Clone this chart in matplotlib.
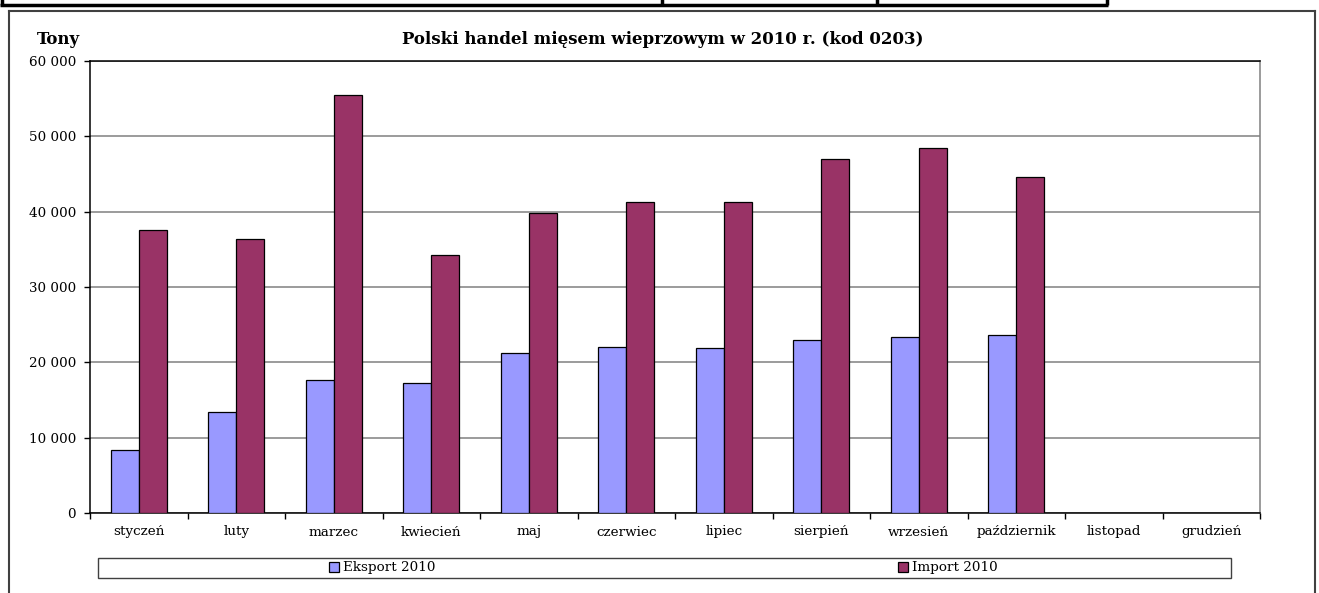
import numpy as np
import matplotlib
matplotlib.use("Agg")
import matplotlib.pyplot as plt
from matplotlib.lines import Line2D
from matplotlib.patches import Rectangle
from matplotlib.ticker import FuncFormatter, FixedLocator

months = ["styczeń", "luty", "marzec", "kwiecień", "maj", "czerwiec",
          "lipiec", "sierpień", "wrzesień", "październik", "listopad", "grudzień"]
eksport_2010 = [8380, 13450, 17600, 17200, 21200, 22100, 21950, 22900, 23300, 23600, None, None]
import_2010 = [37550, 36350, 55550, 34230, 39850, 41250, 41250, 46950, 48450, 44650, None, None]
yticks = [0, 10000, 20000, 30000, 40000, 50000, 60000]

plt.rcParams['font.family'] = ['DejaVu Serif', 'Liberation Serif']

W, H = 1319, 593
fig = plt.figure(figsize=(W / 100, H / 100), dpi=100)

def fx(px):
    return px / W

def fy(py):
    return 1 - py / H

left, right, top, bottom = 90, 1260, 61, 513
ax = fig.add_axes([fx(left), fy(bottom), fx(right - left), (bottom - top) / H])

fs = 9.7
x = np.arange(len(months))
w = 1 / 3.5
ex = np.array([np.nan if v is None else v for v in eksport_2010], dtype=float)
im = np.array([np.nan if v is None else v for v in import_2010], dtype=float)
b1 = ax.bar(x - w / 2, ex, width=w, color="#9999FF", edgecolor="black", linewidth=0.9,
            label="Eksport 2010", zorder=3)
b2 = ax.bar(x + w / 2, im, width=w, color="#993366", edgecolor="black", linewidth=0.9,
            label="Import 2010", zorder=3)

ax.set_xlim(-0.5, len(months) - 0.5)
ax.set_ylim(0, 60000)
ax.set_yticks(yticks)
ax.yaxis.set_major_formatter(FuncFormatter(lambda v, p: f"{int(v):,}".replace(",", " ")))
ax.grid(axis="y", color="#808080", linewidth=1.1, zorder=0)
ax.set_xticks(x)
ax.set_xticklabels(months)
ax.xaxis.set_minor_locator(FixedLocator(np.arange(-0.5, len(months), 1.0)))
ax.tick_params(axis="x", which="major", length=0, pad=9, labelsize=fs)
ax.tick_params(axis="x", which="minor", length=4, width=1, color="black", direction="out")
ax.tick_params(axis="y", length=4, width=1, direction="out", labelsize=fs, pad=6)
for s in ["left", "bottom", "top"]:
    ax.spines[s].set_color("black")
    ax.spines[s].set_linewidth(1.1)
ax.spines["right"].set_color("#808080")
ax.spines["right"].set_linewidth(1.1)

fig.text(fx(58), fy(40), "Tony", ha="center", va="center", fontsize=12, fontweight="bold")
fig.text(fx(663), fy(40), "Polski handel mięsem wieprzowym w 2010 r. (kod 0203)",
         ha="center", va="center", fontsize=12, fontweight="bold")

# legend box
fig.add_artist(Rectangle((fx(98), fy(578)), fx(1231 - 98), (578 - 558) / H,
                         transform=fig.transFigure, facecolor="white",
                         edgecolor="#404040", linewidth=1.0))
for handle, lab, px in [(b1, "Eksport 2010", 329), (b2, "Import 2010", 898)]:
    fig.legend([handle], [lab], loc="center left", bbox_to_anchor=(fx(px), fy(568)),
               frameon=False, fontsize=fs, handlelength=0.75, handleheight=0.75,
               handletextpad=0.3, borderpad=0, borderaxespad=0)

# outer frame
fc = "#404040"
fig.add_artist(Line2D([fx(9), fx(9)], [fy(11), fy(600)], color=fc, lw=1.5, transform=fig.transFigure))
fig.add_artist(Line2D([fx(9), fx(1315)], [fy(11), fy(11)], color=fc, lw=1.5, transform=fig.transFigure))
fig.add_artist(Line2D([fx(1315), fx(1315)], [fy(11), fy(600)], color=fc, lw=1.5, transform=fig.transFigure))

# cropped table border at top
tb = dict(color="black", lw=2.5, transform=fig.transFigure, solid_capstyle="butt")
fig.add_artist(Line2D([fx(0), fx(1108)], [fy(5), fy(5)], **tb))
for px in [2, 662, 877, 1107]:
    fig.add_artist(Line2D([fx(px), fx(px)], [fy(-2), fy(5)], **tb))

fig.savefig("out.png", dpi=100)
